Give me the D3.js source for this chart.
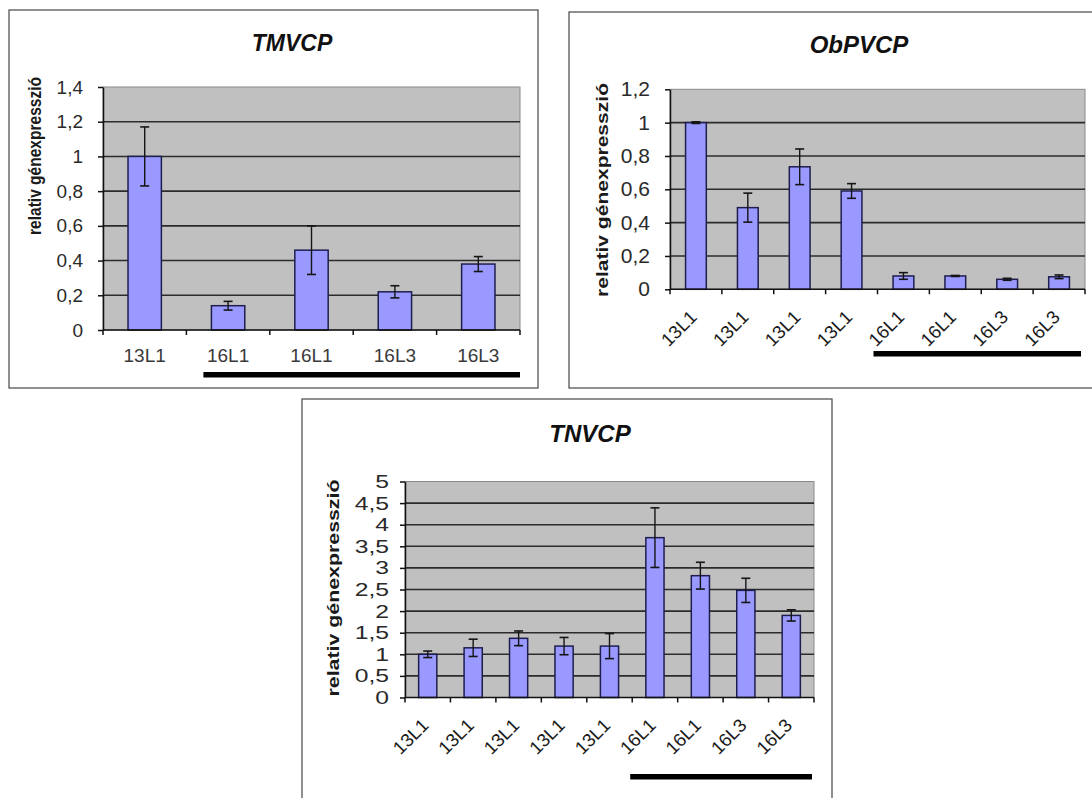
<!DOCTYPE html>
<html>
<head>
<meta charset="utf-8">
<script src="https://cdn.jsdelivr.net/npm/d3@7"></script>
<style>
  body { margin: 0; background: #fff; }
  svg { display: block; font-family: "Liberation Sans", Arial, sans-serif; }
</style>
</head>
<body>
<svg id="chart" width="1092" height="798"></svg>
<script>
// TMVCP panel
const tmvCategories = ['13L1', '16L1', '16L1', '16L3', '16L3'];
const tmvValues = [1.0, 0.14, 0.46, 0.22, 0.38];
const tmvErrors = [0.17, 0.025, 0.14, 0.035, 0.043];
const tmvTicks = [0, 0.2, 0.4, 0.6, 0.8, 1, 1.2, 1.4];

// ObPVCP panel
const obpCategories = ['13L1', '13L1', '13L1', '13L1', '16L1', '16L1', '16L3', '16L3'];
const obpValues = [1.0, 0.49, 0.735, 0.59, 0.08, 0.08, 0.06, 0.075];
const obpErrors = [0.005, 0.087, 0.107, 0.044, 0.02, 0.003, 0.006, 0.011];
const obpTicks = [0, 0.2, 0.4, 0.6, 0.8, 1, 1.2];

// TNVCP panel
const tnvCategories = ['13L1', '13L1', '13L1', '13L1', '13L1', '16L1', '16L1', '16L3', '16L3'];
const tnvValues = [1.0, 1.15, 1.37, 1.19, 1.19, 3.7, 2.82, 2.48, 1.9];
const tnvErrors = [0.075, 0.2, 0.17, 0.2, 0.29, 0.69, 0.31, 0.28, 0.13];
const tnvTicks = [0, 0.5, 1, 1.5, 2, 2.5, 3, 3.5, 4, 4.5, 5];

const yTitle = 'relativ génexpresszió';
const comma = d => String(d).replace('.', ',');

const svg = d3.select('#chart');

function drawPanel(cfg) {
    const g = svg.append('g');

    // frame
    g.append('rect')
        .attr('x', cfg.frame[0]).attr('y', cfg.frame[1])
        .attr('width', cfg.frame[2] - cfg.frame[0])
        .attr('height', cfg.frame[3] - cfg.frame[1])
        .attr('fill', '#fff').attr('stroke', '#555').attr('stroke-width', 1.3);

    const x = d3.scaleBand()
        .domain(d3.range(cfg.categories.length))
        .range([cfg.left, cfg.right])
        .padding(0);
    const y = d3.scaleLinear()
        .domain([0, d3.max(cfg.ticks)])
        .range([cfg.bottom, cfg.top]);

    // plot area
    g.append('rect')
        .attr('x', cfg.left).attr('y', cfg.top)
        .attr('width', cfg.right - cfg.left).attr('height', cfg.bottom - cfg.top)
        .attr('fill', '#c0c0c0').attr('stroke', '#8a8a8a').attr('stroke-width', 1);

    // gridlines
    g.selectAll('.grid')
        .data(cfg.ticks.filter(t => t > 0 && t < d3.max(cfg.ticks)))
        .enter().append('line')
        .attr('x1', cfg.left).attr('x2', cfg.right)
        .attr('y1', d => y(d)).attr('y2', d => y(d))
        .attr('stroke', '#2b2b2b').attr('stroke-width', 1.6);

    // bars
    const bw = x.bandwidth() * 0.4;
    g.selectAll('.bar')
        .data(cfg.values)
        .enter().append('rect')
        .attr('x', (d, i) => x(i) + x.bandwidth() / 2 - bw / 2)
        .attr('y', d => y(d))
        .attr('width', bw)
        .attr('height', d => y(0) - y(d))
        .attr('fill', '#9999ff').attr('stroke', '#1e1e4e').attr('stroke-width', 1.5);

    // error bars
    const eb = g.selectAll('.err')
        .data(cfg.values.map((v, i) => ({ v, e: cfg.errors[i], i })))
        .enter().append('g');
    const cx = d => x(d.i) + x.bandwidth() / 2;
    eb.append('line')
        .attr('x1', cx).attr('x2', cx)
        .attr('y1', d => y(d.v + d.e)).attr('y2', d => y(d.v - d.e))
        .attr('stroke', '#151515').attr('stroke-width', 1.4);
    [1, -1].forEach(s => {
        eb.append('line')
            .attr('x1', d => cx(d) - cfg.cap).attr('x2', d => cx(d) + cfg.cap)
            .attr('y1', d => y(d.v + s * d.e)).attr('y2', d => y(d.v + s * d.e))
            .attr('stroke', '#151515').attr('stroke-width', 1.6);
    });

    // y axis
    const ya = g.append('g')
        .attr('transform', `translate(${cfg.left},0)`)
        .call(d3.axisLeft(y).tickValues(cfg.ticks).tickSize(5).tickSizeOuter(0).tickFormat(comma));
    ya.select('.domain').attr('stroke', '#111').attr('stroke-width', 1.5);
    ya.selectAll('.tick line').attr('stroke', '#111').attr('stroke-width', 1.5);
    ya.selectAll('.tick text')
        .attr('x', null)
        .attr('transform', `translate(${-cfg.labelGap},0) scale(${cfg.labelStretch},1)`)
        .attr('font-size', cfg.tickFont)
        .attr('fill', '#2a2a2a')
        .attr('font-family', '"Liberation Sans", Arial, sans-serif');

    // x axis line and boundary ticks
    g.append('line')
        .attr('x1', cfg.left).attr('x2', cfg.right)
        .attr('y1', cfg.bottom).attr('y2', cfg.bottom)
        .attr('stroke', '#111').attr('stroke-width', 1.5);
    g.selectAll('.xtick')
        .data(d3.range(cfg.categories.length + 1))
        .enter().append('line')
        .attr('x1', i => i < cfg.categories.length ? x(i) : cfg.right)
        .attr('x2', i => i < cfg.categories.length ? x(i) : cfg.right)
        .attr('y1', cfg.bottom).attr('y2', cfg.bottom + 5)
        .attr('stroke', '#111').attr('stroke-width', 1.5);

    // x labels
    const xl = g.selectAll('.xlab')
        .data(cfg.categories)
        .enter().append('text')
        .attr('font-size', cfg.xFont)
        .attr('fill', cfg.rotate ? '#1a1a1a' : '#3a3a3a')
        .text(d => d);
    if (cfg.rotate) {
        xl.attr('text-anchor', 'end')
            .attr('transform', (d, i) => `translate(${x(i) + x.bandwidth() / 2 + 2},${cfg.bottom + 29}) rotate(-45)`);
    } else {
        xl.attr('text-anchor', 'middle')
            .attr('x', (d, i) => x(i) + x.bandwidth() / 2)
            .attr('y', cfg.bottom + 32);
    }

    // group underline
    g.append('rect')
        .attr('x', x(cfg.lineFrom) + cfg.lineOffset)
        .attr('y', cfg.lineY)
        .attr('width', cfg.right - cfg.lineEnd - x(cfg.lineFrom) - cfg.lineOffset)
        .attr('height', 5.5)
        .attr('fill', '#000');

    // titles
    g.append('text')
        .attr('x', cfg.titleX).attr('y', cfg.titleY)
        .attr('text-anchor', 'middle')
        .attr('font-size', cfg.titleFont)
        .attr('font-weight', 'bold').attr('font-style', 'italic')
        .attr('fill', '#111')
        .text(cfg.title);

    g.append('text')
        .attr('transform', `translate(${cfg.yTitleX},${cfg.yTitleY}) rotate(-90)`)
        .attr('text-anchor', 'middle')
        .attr('dominant-baseline', 'central')
        .attr('font-size', cfg.yTitleFont)
        .attr('font-weight', 'bold')
        .attr('fill', '#1a1a1a')
        .attr('textLength', cfg.yTitleLen)
        .attr('lengthAdjust', 'spacingAndGlyphs')
        .text(yTitle);
}

drawPanel({
    title: 'TMVCP', categories: tmvCategories, values: tmvValues, errors: tmvErrors, ticks: tmvTicks,
    frame: [9, 10, 538, 388], left: 103, right: 520, top: 87, bottom: 330,
    cap: 4.5, labelGap: 20, labelStretch: 1, tickFont: 19, xFont: 19, rotate: false,
    lineFrom: 1, lineOffset: 17, lineEnd: 0, lineY: 372,
    titleX: 292, titleY: 51, titleFont: 23,
    yTitleX: 35, yTitleY: 156, yTitleLen: 158, yTitleFont: 17.5
});

drawPanel({
    title: 'ObPVCP', categories: obpCategories, values: obpValues, errors: obpErrors, ticks: obpTicks,
    frame: [569, 12, 1096, 388], left: 670, right: 1085, top: 89.3, bottom: 289.3,
    cap: 4.5, labelGap: 20, labelStretch: 1.05, tickFont: 20, xFont: 18.5, rotate: true,
    lineFrom: 4, lineOffset: -4, lineEnd: 4, lineY: 351,
    titleX: 859, titleY: 53, titleFont: 24,
    yTitleX: 602, yTitleY: 190, yTitleLen: 214, yTitleFont: 17
});

drawPanel({
    title: 'TNVCP', categories: tnvCategories, values: tnvValues, errors: tnvErrors, ticks: tnvTicks,
    frame: [302, 399, 832, 806], left: 405, right: 814, top: 481.5, bottom: 697.5,
    cap: 4.5, labelGap: 16, labelStretch: 1.3, tickFont: 19, xFont: 18.5, rotate: true,
    lineFrom: 5, lineOffset: -2, lineEnd: 2, lineY: 774,
    titleX: 590, titleY: 442, titleFont: 24,
    yTitleX: 333, yTitleY: 588, yTitleLen: 217, yTitleFont: 17
});
</script>
</body>
</html>
